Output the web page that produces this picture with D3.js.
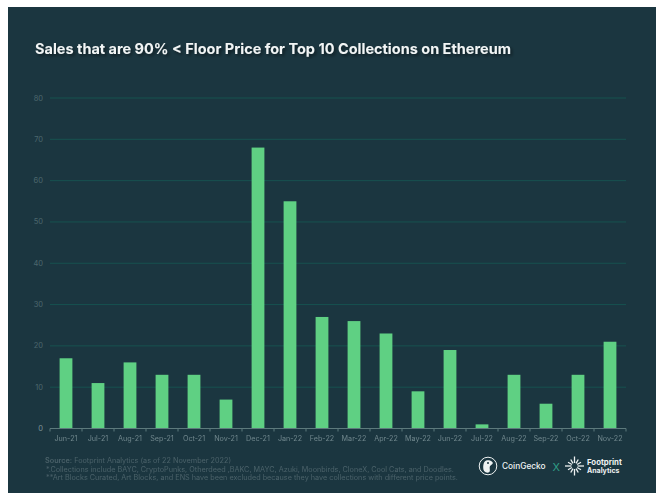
<!DOCTYPE html>
<html lang="en">
  <head>
    <meta charset="utf-8">
    <title>Sales below floor price</title>
    <style>
      html, body { margin: 0; padding: 0; background: #fff; }
      svg { display: block; font-family: Inter, Roboto, sans-serif; }
    </style>
  </head>
  <body>
    <svg width="662" height="498"></svg>
    <script src="https://cdn.jsdelivr.net/npm/d3@7"></script>
    <script>
      const months = ['Jun-21','Jul-21','Aug-21','Sep-21','Oct-21','Nov-21','Dec-21','Jan-22','Feb-22',
        'Mar-22','Apr-22','May-22','Jun-22','Jul-22','Aug-22','Sep-22','Oct-22','Nov-22'];
      const sales = [17,11,16,13,13,7,68,55,27,26,23,9,19,1,13,6,13,21];
      const yTicks = [0,10,20,30,40,50,60,70,80];
      const footnotes = [
        '*.Collections include BAYC, CryptoPunks, Otherdeed ,BAKC, MAYC, Azuki, Moonbirds, CloneX, Cool Cats, and Doodles.',
        '**Art Blocks Curated, Art Blocks, and ENS have been excluded because they have collections with different price points.'
      ];

      const svg = d3.select('svg');

      svg.append('rect')
        .attr('x', 8).attr('y', 7)
        .attr('width', 648).attr('height', 486)
        .attr('fill', '#1b3640');

      const defs = svg.append('defs');
      const blur = defs.append('filter').attr('id', 'soft');
      blur.append('feGaussianBlur').attr('stdDeviation', 0.3);

      const shadow = defs.append('filter').attr('id', 'shadow');
      shadow.append('feDropShadow')
        .attr('dx', 2).attr('dy', 2).attr('stdDeviation', 1.5)
        .attr('flood-color', '#000').attr('flood-opacity', 0.45);

      svg.append('text')
        .attr('x', 35).attr('y', 54)
        .attr('fill', '#f2f5f5')
        .attr('font-size', 14.5)
        .attr('font-weight', 700)
        .attr('filter', 'url(#shadow)')
        .text('Sales that are 90% < Floor Price for Top 10 Collections on Ethereum');

      const x = d3.scaleBand().domain(months).range([50, 626]).paddingInner(0.6).paddingOuter(0.3);
      const y = d3.scaleLinear().domain([0, 80]).range([428.5, 98]);

      // gridlines
      svg.append('g').selectAll('line')
        .data(yTicks.slice(1)).enter()
        .append('line')
        .attr('x1', 50).attr('x2', 626)
        .attr('y1', d => y(d)).attr('y2', d => y(d))
        .attr('stroke', '#17524f')
        .attr('stroke-width', 1);

      // y labels
      svg.append('g').selectAll('text')
        .data(yTicks).enter()
        .append('text')
        .attr('x', 43)
        .attr('y', d => y(d) + 2.5)
        .attr('text-anchor', 'end')
        .attr('font-size', 7.5)
        .attr('fill', d => d === 0 ? '#7d9197' : '#4c666d')
        .text(d => d);

      svg.append('g').selectAll('rect')
        .data(sales).enter()
        .append('rect')
        .attr('x', (d, i) => x(months[i]))
        .attr('y', d => y(d))
        .attr('width', x.bandwidth())
        .attr('height', d => y(0) - y(d))
        .attr('fill', '#5fd083');

      // x axis, ticks on the band edges
      const axis = svg.append('g').attr('stroke', '#5d7a7c').attr('stroke-width', 1);
      axis.append('line')
        .attr('x1', 50).attr('x2', 626)
        .attr('y1', y(0)).attr('y2', y(0));
      axis.selectAll('.edge')
        .data(months.concat('end')).enter()
        .append('line')
        .attr('class', 'edge')
        .attr('x1', d => d === 'end' ? 626 : x(d) - x.step() * 0.3)
        .attr('x2', d => d === 'end' ? 626 : x(d) - x.step() * 0.3)
        .attr('y1', y(0)).attr('y2', y(0) + 3);

      svg.append('g').attr('filter', 'url(#soft)').selectAll('text')
        .data(months).enter()
        .append('text')
        .attr('x', d => x(d) + x.bandwidth() / 2)
        .attr('y', 441)
        .attr('text-anchor', 'middle')
        .attr('font-size', 7.2)
        .attr('fill', '#6f868c')
        .text(d => d);

      const notes = svg.append('g')
        .attr('font-size', 7.25)
        .attr('fill', '#4a6169')
        .attr('filter', 'url(#soft)');
      const source = notes.append('text').attr('x', 45).attr('y', 463);
      source.append('tspan').attr('font-weight', 600).text('Source:');
      source.append('tspan').text(' Footprint Analytics (as of 22 November 2022)');
      notes.selectAll('.note')
        .data(footnotes).enter()
        .append('text')
        .attr('class', 'note')
        .attr('x', 46)
        .attr('y', (d, i) => 471.5 + i * 8.7)
        .text(d => d);

      // CoinGecko mark
      const gecko = svg.append('g').attr('transform', 'translate(488,466)');
      gecko.append('circle').attr('r', 8.8).attr('fill', 'none').attr('stroke', '#eef2f2').attr('stroke-width', 1);
      gecko.append('path')
        .attr('d', d3.line().curve(d3.curveBasisClosed)([[-5,7],[-5,-3],[-2,-6],[2,-6],[6,-3],[3,-1],[1,1],[3,7]]))
        .attr('fill', '#eef2f2');
      gecko.append('circle').attr('cx', 0).attr('cy', -3).attr('r', 1).attr('fill', '#1b3640');

      svg.append('text')
        .attr('x', 502).attr('y', 469)
        .attr('font-size', 8.3).attr('font-weight', 500).attr('fill', '#eef2f2')
        .text('CoinGecko');
      svg.append('text')
        .attr('x', 552.5).attr('y', 470.5)
        .attr('font-size', 11).attr('fill', '#2f9d86')
        .text('X');

      // Footprint Analytics mark
      const spokes = d3.range(12);
      svg.append('g')
        .attr('transform', 'translate(574.5,466)')
        .selectAll('line')
        .data(spokes).enter()
        .append('line')
        .attr('x1', d => Math.cos(d * Math.PI / 6) * 3)
        .attr('y1', d => Math.sin(d * Math.PI / 6) * 3)
        .attr('x2', d => Math.cos(d * Math.PI / 6) * (d % 3 === 0 ? 9.5 : 7.5))
        .attr('y2', d => Math.sin(d * Math.PI / 6) * (d % 3 === 0 ? 9.5 : 7.5))
        .attr('stroke', '#eef2f2')
        .attr('stroke-width', 1.3);

      svg.append('text')
        .attr('x', 587).attr('y', 465)
        .attr('font-size', 7.8).attr('font-weight', 700).attr('fill', '#eef2f2')
        .text('Footprint');
      svg.append('text')
        .attr('x', 587).attr('y', 472.5)
        .attr('font-size', 7).attr('font-weight', 700).attr('fill', '#eef2f2')
        .text('Analytics');
    </script>
  </body>
</html>
